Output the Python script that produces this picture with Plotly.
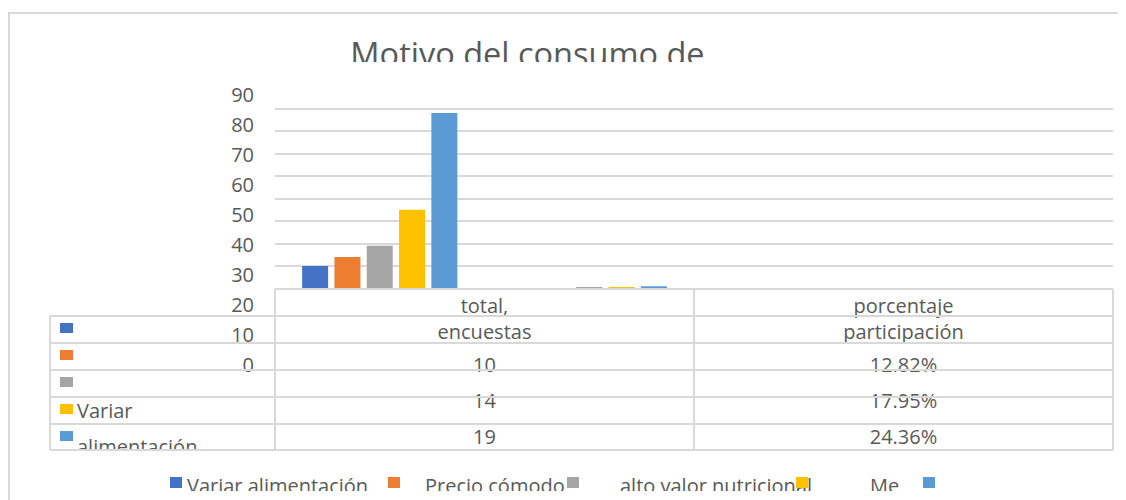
import plotly.graph_objects as go

W, H = 1126, 500
OFF = 8  # the page body margin shifts the figure by this many pixels

# ---------------- data ----------------
categories = ["total, encuestas", "porcentaje participación"]
series_names = ["Variar alimentación", "Precio cómodo", "alto valor nutricional", "Me", ""]
total_encuestas = [10, 14, 19, 35, 78]
porcentaje = [0.1282, 0.1795, 0.2436, 0.4487, 1.0]
pct_labels = ["12.82%", "17.95%", "24.36%", "44.87%", "100.00%"]
row_labels = ["", "", "", "Variar", "alimentación"]
legend_labels = ["Variar alimentación", "Precio cómodo", "alto valor nutricional", "Me"]
y_ticks = [0, 10, 20, 30, 40, 50, 60, 70, 80, 90]
title_text = "Motivo del consumo de"
colors = ["#4472C4", "#ED7D31", "#A5A5A5", "#FFC000", "#5B9BD5"]

# ---------------- style ----------------
FONT = "Open Sans"
TXT = "#595959"
GRID = "#d9d9d9"
FS = 20
MID = 0.25 * FS  # plotly puts a single-line "middle" text baseline at y + 0.25*size


def fx(px):
    return (px - OFF) / W


def fy(py):
    return 1 - (py - OFF) / H


XR = [OFF, W + OFF]  # x range for pixel-coordinate text regions

fig = go.Figure()

for i, name in enumerate(series_names):
    fig.add_trace(go.Bar(
        x=[0, 1], y=[total_encuestas[i], porcentaje[i]], name=name,
        marker=dict(color=colors[i], line=dict(width=0)),
        xaxis="x", yaxis="y", showlegend=False, hoverinfo="skip",
    ))

fig.add_trace(go.Scatter(x=[0], y=[0], mode="markers", marker=dict(opacity=0),
                         xaxis="x2", yaxis="y2", showlegend=False, hoverinfo="skip"))

tf = dict(family=FONT, size=FS, color=TXT)

# title, clipped at its bottom like the reference (baseline ~66, clip at 62)
TS = 32.5
fig.add_trace(go.Scatter(x=[527.5], y=[66 - 0.25 * TS], mode="text", text=[title_text],
                         textposition="middle center",
                         textfont=dict(family=FONT, size=TS, color=TXT),
                         xaxis="x3", yaxis="y3", cliponaxis=True,
                         showlegend=False, hoverinfo="skip"))

TABLE_BOTTOM = 450
col_centers = [484.5, 903.5]
hdr = [c.replace(", ", ",<br>").replace("porcentaje ", "porcentaje<br>") for c in categories]
# two-line text: first baseline at y - 0.4*size -> want 313
fig.add_trace(go.Scatter(x=col_centers, y=[313 + 0.4 * FS] * 2, mode="text", text=hdr,
                         textposition="middle center", textfont=tf,
                         xaxis="x4", yaxis="y4", cliponaxis=True,
                         showlegend=False, hoverinfo="skip"))
n = len(total_encuestas)
base_y = [372 + 36 * k for k in range(n)]  # text baselines
vis = [k for k in range(n) if base_y[k] - 15 < TABLE_BOTTOM]
fig.add_trace(go.Scatter(x=[col_centers[0]] * len(vis), y=[base_y[k] - MID for k in vis],
                         mode="text", text=[str(total_encuestas[k]) for k in vis],
                         textposition="middle center", textfont=tf,
                         xaxis="x4", yaxis="y4", cliponaxis=True,
                         showlegend=False, hoverinfo="skip"))
fig.add_trace(go.Scatter(x=[col_centers[1]] * len(vis), y=[base_y[k] - MID for k in vis],
                         mode="text", text=[pct_labels[k] for k in vis],
                         textposition="middle center", textfont=tf,
                         xaxis="x4", yaxis="y4", cliponaxis=True,
                         showlegend=False, hoverinfo="skip"))
lab_base = [418 + 36 * (k - 3) for k in range(n)]
fig.add_trace(go.Scatter(x=[77] * n, y=[b - MID for b in lab_base], mode="text",
                         text=row_labels, textposition="middle right", textfont=tf,
                         xaxis="x4", yaxis="y4", cliponaxis=True,
                         showlegend=False, hoverinfo="skip"))

# bottom legend texts, clipped like the reference (baseline ~492.5, clip at 491)
leg_x = [187, 425, 620, 870]
fig.add_trace(go.Scatter(x=leg_x, y=[492.5 - MID] * len(leg_x), mode="text",
                         text=legend_labels, textposition="middle right", textfont=tf,
                         xaxis="x5", yaxis="y5", cliponaxis=True,
                         showlegend=False, hoverinfo="skip"))

shapes = []
# outer chart border (runs off the right and bottom edges)
shapes.append(dict(type="rect", xref="paper", yref="paper", x0=fx(9), x1=fx(1160),
                   y0=fy(540), y1=fy(13), line=dict(color=GRID, width=2), layer="below"))
# data table grid
hl = dict(color=GRID, width=2)
shapes.append(dict(type="line", xref="paper", yref="paper", x0=fx(275), x1=fx(1113),
                   y0=fy(289), y1=fy(289), line=hl, layer="above"))
for yy in [316, 343, 370, 397, 424, 450]:
    shapes.append(dict(type="line", xref="paper", yref="paper", x0=fx(50), x1=fx(1113),
                       y0=fy(yy), y1=fy(yy), line=hl, layer="above"))
for xx, ytop in [(50, 316), (275, 289), (694, 289), (1113, 289)]:
    shapes.append(dict(type="line", xref="paper", yref="paper", x0=fx(xx), x1=fx(xx),
                       y0=fy(ytop), y1=fy(450), line=hl, layer="above"))
# table legend keys
for k, c in enumerate(colors):
    yc = 328 + 27 * k
    shapes.append(dict(type="rect", xref="paper", yref="paper", x0=fx(60), x1=fx(73),
                       y0=fy(yc + 5), y1=fy(yc - 5), fillcolor=c, line=dict(width=0),
                       layer="above"))
# bottom legend keys
for x0, c in zip([170, 388, 567, 796, 923], colors):
    shapes.append(dict(type="rect", xref="paper", yref="paper", x0=fx(x0), x1=fx(x0 + 12),
                       y0=fy(488), y1=fy(477), fillcolor=c, line=dict(width=0),
                       layer="above"))

hidden = dict(visible=False, fixedrange=True)
fig.update_layout(
    width=W, height=H, autosize=False,
    margin=dict(l=0, r=0, t=0, b=0, pad=0, autoexpand=False),
    paper_bgcolor="white", plot_bgcolor="rgba(0,0,0,0)",
    barmode="group", bargap=0.229, bargroupgap=0.195,
    showlegend=False,
    shapes=shapes,
    xaxis=dict(domain=[fx(275), fx(1113)], range=[-0.5, 3.5], showticklabels=False,
               showgrid=False, zeroline=False, showline=False, ticks="", fixedrange=True),
    yaxis=dict(domain=[fy(288.5), fy(86)], range=[0, 90], dtick=10, showgrid=True,
               gridcolor=GRID, gridwidth=2, showticklabels=False, zeroline=False,
               showline=False, ticks="", fixedrange=True),
    xaxis2=dict(domain=[fx(255), fx(259)], anchor="y2", range=[0, 1], **hidden),
    yaxis2=dict(domain=[fy(364.5), fy(94.5)], anchor="x2", range=[0, 90],
                tickvals=y_ticks, ticktext=[str(v) for v in y_ticks], tickfont=tf,
                showgrid=False, zeroline=False, showline=False, ticks="", fixedrange=True),
    xaxis3=dict(domain=[0, 1], anchor="y3", range=XR, **hidden),
    yaxis3=dict(domain=[fy(62), 1], anchor="x3", range=[62, OFF], **hidden),
    xaxis4=dict(domain=[0, 1], anchor="y4", range=XR, **hidden),
    yaxis4=dict(domain=[fy(450), fy(289)], anchor="x4", range=[450, 289], **hidden),
    xaxis5=dict(domain=[0, 1], anchor="y5", range=XR, **hidden),
    yaxis5=dict(domain=[fy(491), fy(450)], anchor="x5", range=[491, 450], **hidden),
)

fig.write_html("out.html")
